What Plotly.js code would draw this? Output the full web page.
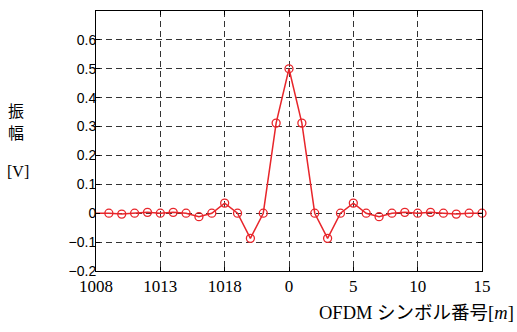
<!DOCTYPE html>
<html>
<head>
<meta charset="utf-8">
<script src="https://cdn.plot.ly/plotly-3.0.1.min.js"></script>
<style>html,body{margin:0;padding:0;background:#fff;}#chart{width:517px;height:332px;}</style>
</head>
<body>
<div id="chart"></div>
<script>
// symbol positions (plot index) and amplitudes [V]
const positions = [-16,-15,-14,-13,-12,-11,-10,-9,-8,-7,-6,-5,-4,-3,-2,-1,0,1,2,3,4,5,6,7,8,9,10,11,12,13,14,15];
const amplitude = [0,0,0,-0.003,0,0.003,0,0.003,0,-0.012,0,0.035,0,-0.087,0,0.312,0.5,0.312,0,-0.087,0,0.035,0,-0.012,0,0.003,0,0.003,0,-0.003,0,0];
const xTickVals = [-15,-10,-5,0,5,10,15];
const xTickText = ['1008','1013','1018','0','5','10','15'];
const yTickVals = [-0.2,-0.1,0,0.1,0.2,0.3,0.4,0.5,0.6];
const yTickText = ['\u22120.2','\u22120.1','0','0.1','0.2','0.3','0.4','0.5','0.6'];

const red = '#e8262b';
const traces = [
  {x: positions, y: amplitude, mode: 'lines', line: {color: red, width: 1.5}, cliponaxis: true, hoverinfo: 'skip'},
  {x: positions.slice(2), y: amplitude.slice(2), mode: 'markers', cliponaxis: false,
   marker: {symbol: 'circle-open', size: 8, color: red, line: {width: 1.3, color: red}}}
];
const gridCol = '#333';
const layout = {
  width: 517, height: 332,
  margin: {l: 96, r: 35, t: 11, b: 61},
  paper_bgcolor: '#fff', plot_bgcolor: '#fff',
  showlegend: false,
  xaxis: {
    range: [-15, 15], tickvals: xTickVals, ticktext: xTickText,
    showgrid: true, gridcolor: gridCol, gridwidth: 1, griddash: '6px,4px',
    zeroline: false, showline: true, linecolor: '#000', linewidth: 1, mirror: 'ticks',
    ticks: 'inside', ticklen: 4, tickcolor: '#000',
    tickfont: {family: 'Liberation Serif, Times New Roman, serif', size: 17, color: '#000'}
  },
  yaxis: {
    range: [-0.2, 0.7], tickvals: yTickVals, ticktext: yTickText,
    showgrid: true, gridcolor: gridCol, gridwidth: 1, griddash: '6px,4px',
    zeroline: false, showline: true, linecolor: '#000', linewidth: 1, mirror: 'ticks',
    ticks: 'inside', ticklen: 4, tickcolor: '#000', ticklabelstandoff: -4,
    tickfont: {family: 'Liberation Sans, Arial, sans-serif', size: 14, color: '#000'}
  },
  annotations: [
    {text: '振', xref: 'paper', yref: 'paper', x: 0, y: 0, xanchor: 'center', yanchor: 'middle', showarrow: false,
     xshift: -80, yshift: 161, font: {family: 'Noto Sans CJK JP', size: 16, color: '#000'}},
    {text: '幅', xref: 'paper', yref: 'paper', x: 0, y: 0, xanchor: 'center', yanchor: 'middle', showarrow: false,
     xshift: -80, yshift: 139, font: {family: 'Noto Sans CJK JP', size: 16, color: '#000'}},
    {text: '[V]', xref: 'paper', yref: 'paper', x: 0, y: 0, xanchor: 'center', yanchor: 'middle', showarrow: false,
     xshift: -78, yshift: 100, font: {family: 'Liberation Serif, Times New Roman, serif', size: 16, color: '#000'}},
    {text: 'OFDM シンボル番号[<i>m</i>]', xref: 'paper', yref: 'paper', x: 1, y: 0, xanchor: 'right', yanchor: 'middle', showarrow: false,
     xshift: 34, yshift: -42, font: {family: 'Liberation Serif, Noto Sans CJK JP, serif', size: 18.5, color: '#000'}}
  ]
};
Plotly.newPlot('chart', traces, layout, {staticPlot: true, displayModeBar: false});
</script>
</body>
</html>
